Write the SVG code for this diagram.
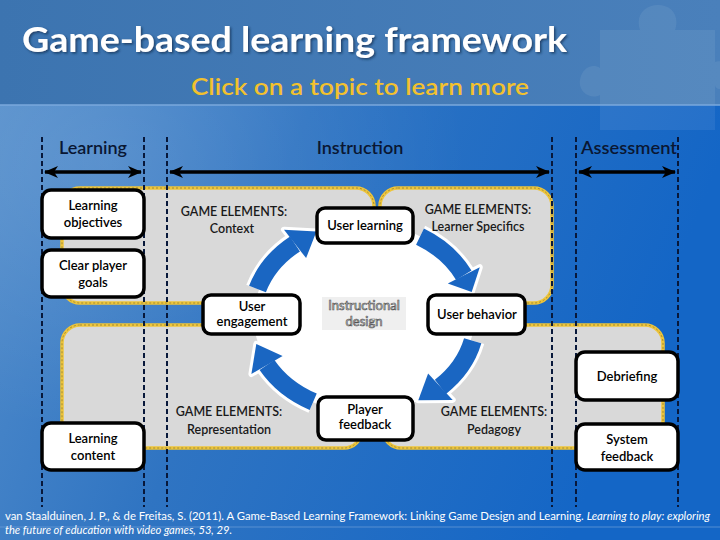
<svg xmlns="http://www.w3.org/2000/svg" width="720" height="540" viewBox="0 0 720 540">
<defs>
<linearGradient id="bg" x1="0" y1="0" x2="1" y2="0.3">
<stop offset="0" stop-color="#5790cc"/>
<stop offset="0.45" stop-color="#2f74c2"/>
<stop offset="1" stop-color="#1466c6"/>
</linearGradient>
<linearGradient id="hdr" x1="0" y1="0" x2="1" y2="0">
<stop offset="0" stop-color="#3c74b0"/>
<stop offset="1" stop-color="#4a80bb"/>
</linearGradient>
<radialGradient id="glow" cx="0.15" cy="0.3" r="0.5">
<stop offset="0" stop-color="#ffffff" stop-opacity="0.12"/>
<stop offset="1" stop-color="#ffffff" stop-opacity="0"/>
</radialGradient>
<marker id="ah" viewBox="0 0 14 14" refX="13" refY="7" markerWidth="14" markerHeight="14" markerUnits="userSpaceOnUse" orient="auto-start-reverse">
<path d="M0,1 L14,7 L0,13 L4,7 z" fill="#000"/>
</marker>
<filter id="sh" x="-5%" y="-20%" width="110%" height="140%">
<feDropShadow dx="1.5" dy="1.5" stdDeviation="1" flood-color="#10284a" flood-opacity="0.7"/>
</filter>
</defs>
<style>
.t{font-family:Lato,"Open Sans","Liberation Sans",sans-serif}
.box{fill:#fff;stroke:#000;stroke-width:3.5}
.bt{font-family:Lato,"Open Sans","Liberation Sans",sans-serif;font-size:13px;fill:#000;text-anchor:middle;font-weight:600}
.ge{font-family:Lato,"Open Sans","Liberation Sans",sans-serif;font-size:12.5px;fill:#1a1a1a;text-anchor:middle;font-weight:600}
.hd{font-family:Lato,"Open Sans","Liberation Sans",sans-serif;font-size:18px;fill:#0a1733;text-anchor:middle;font-weight:600}
.pan{fill:#d9d9d9;stroke:#eec53a;stroke-width:3.5}
.pand{fill:none;stroke:#a08a3a;stroke-width:1;stroke-dasharray:2 2}
.dash{stroke:#08183a;stroke-width:2;stroke-dasharray:5 3;fill:none}
.rng{stroke:#1a66c2;stroke-width:18;fill:none}
.rngw{stroke:#fff;stroke-width:24;fill:none}
.hw{fill:#fff;stroke:#fff;stroke-width:6;stroke-linejoin:round}
.hb{fill:#1a66c2}
.dbl{stroke:#000;stroke-width:3.5;fill:none}
</style>

<!-- background -->
<rect x="0" y="0" width="720" height="540" fill="url(#bg)"/>
<rect x="0" y="0" width="720" height="540" fill="url(#glow)"/>
<rect x="0" y="0" width="720" height="105" fill="url(#hdr)"/>
<path d="M600,30 L640,30 C635,15 645,5 658,5 C671,5 680,15 675,30 L715,30 L715,62 C725,58 735,70 730,80 C725,92 715,90 715,85 L715,130 L600,130 L600,95 C590,100 578,92 580,80 C582,68 592,63 600,68 z" fill="#ffffff" opacity="0.07"/>
<line x1="0" y1="105" x2="720" y2="105" stroke="#7aa9dd" stroke-width="1.5"/>
<line x1="0" y1="527" x2="720" y2="527" stroke="#6f9fd8" stroke-width="1" opacity="0.7"/>

<text class="t" x="22" y="52" font-size="34" font-weight="bold" fill="#fff" textLength="545" lengthAdjust="spacingAndGlyphs" filter="url(#sh)">Game-based learning framework</text>
<text class="t" x="191" y="95" font-size="23" font-weight="600" fill="#f2c12e" textLength="338" lengthAdjust="spacingAndGlyphs">Click on a topic to learn more</text>

<!-- headers -->
<text class="hd" x="93" y="154">Learning</text>
<text class="hd" x="360" y="154">Instruction</text>
<text class="hd" x="629" y="154" textLength="96" lengthAdjust="spacingAndGlyphs">Assessment</text>

<!-- panels -->
<g id="panels">
<rect class="pan" x="62" y="188" width="312" height="115" rx="18"/>
<rect class="pand" x="62" y="188" width="312" height="115" rx="18"/>
<rect class="pan" x="380" y="188" width="172" height="115" rx="18"/>
<rect class="pand" x="380" y="188" width="172" height="115" rx="18"/>
<rect x="355" y="207" width="40" height="94" fill="#d9d9d9"/>
<rect class="pan" x="62" y="325" width="300" height="123" rx="18"/>
<rect class="pand" x="62" y="325" width="300" height="123" rx="18"/>
<rect class="pan" x="383" y="325" width="280" height="123" rx="18"/>
<rect class="pand" x="383" y="325" width="280" height="123" rx="18"/>
<rect x="345" y="328" width="55" height="106" fill="#d9d9d9"/>
</g>

<!-- central disk -->
<ellipse cx="364" cy="318" rx="110" ry="95" fill="#fff"/>
<g id="center">
<rect x="322" y="297" width="84" height="33" fill="#efefef"/>
<text class="t" x="364" y="310" font-size="13" text-anchor="middle" fill="#fff" stroke="#555" stroke-width="0.7">Instructional</text>
<text class="t" x="364" y="326" font-size="13" text-anchor="middle" fill="#fff" stroke="#555" stroke-width="0.7">design</text>
</g>

<!-- dashed dividers -->
<g id="dividers">
<line class="dash" x1="42" y1="137" x2="42" y2="507"/>
<line class="dash" x1="144" y1="137" x2="144" y2="507"/>
<line class="dash" x1="167" y1="137" x2="167" y2="507"/>
<line class="dash" x1="552" y1="137" x2="552" y2="507"/>
<line class="dash" x1="576" y1="137" x2="576" y2="507"/>
<line class="dash" x1="678" y1="137" x2="678" y2="507"/>
</g>

<!-- connectors -->
<g id="connectors">
<line class="dbl" x1="45" y1="172" x2="141" y2="172" marker-start="url(#ah)" marker-end="url(#ah)"/>
<line class="dbl" x1="170" y1="172" x2="549" y2="172" marker-start="url(#ah)" marker-end="url(#ah)"/>
<line class="dbl" x1="579" y1="172" x2="675" y2="172" marker-start="url(#ah)" marker-end="url(#ah)"/>

<path class="rngw" d="M257.5,289 A112,94 0 0 1 295,243.9"/>
<path class="rngw" d="M420,236.6 A112,94 0 0 1 463.8,275.3"/>
<path class="rngw" d="M472.7,340.7 A112,94 0 0 1 440.4,386.8"/>
<path class="rngw" d="M313.2,401.8 A112,94 0 0 1 267,365"/>
<polygon class="hw" points="284,229.7 316.4,231.6 306.1,258.1"/>
<polygon class="hw" points="479.8,267.2 471.7,292.1 447.8,283.5"/>
<polygon class="hw" points="452.7,399.9 418.3,400.2 428.1,373.6"/>
<polygon class="hw" points="251.4,374 256.3,343.9 282.6,356"/>
<path class="rng" d="M257.5,289 A112,94 0 0 1 295,243.9"/>
<path class="rng" d="M420,236.6 A112,94 0 0 1 463.8,275.3"/>
<path class="rng" d="M472.7,340.7 A112,94 0 0 1 440.4,386.8"/>
<path class="rng" d="M313.2,401.8 A112,94 0 0 1 267,365"/>
<polygon class="hb" points="284,229.7 316.4,231.6 306.1,258.1"/>
<polygon class="hb" points="479.8,267.2 471.7,292.1 447.8,283.5"/>
<polygon class="hb" points="452.7,399.9 418.3,400.2 428.1,373.6"/>
<polygon class="hb" points="251.4,374 256.3,343.9 282.6,356"/>
</g>

<!-- game elements labels -->
<g id="ge-context"><text class="ge" x="234" y="216">GAME ELEMENTS:</text><text class="ge" x="232" y="233">Context</text></g>
<g id="ge-learner"><text class="ge" x="478" y="214">GAME ELEMENTS:</text><text class="ge" x="478" y="231">Learner Specifics</text></g>
<g id="ge-representation"><text class="ge" x="229" y="416">GAME ELEMENTS:</text><text class="ge" x="229" y="434">Representation</text></g>
<g id="ge-pedagogy"><text class="ge" x="494" y="416">GAME ELEMENTS:</text><text class="ge" x="494" y="434">Pedagogy</text></g>

<!-- nodes -->
<g id="learning-objectives"><rect class="box" x="42" y="190" width="102" height="48" rx="9"/><text class="bt" x="93" y="210">Learning</text><text class="bt" x="93" y="227">objectives</text></g>
<g id="clear-player-goals"><rect class="box" x="42" y="250" width="102" height="47" rx="9"/><text class="bt" x="93" y="270">Clear player</text><text class="bt" x="93" y="287">goals</text></g>
<g id="learning-content"><rect class="box" x="42" y="423" width="102" height="47" rx="9"/><text class="bt" x="93" y="443">Learning</text><text class="bt" x="93" y="460">content</text></g>
<g id="user-learning"><rect class="box" x="317" y="208" width="96" height="35" rx="8"/><text class="bt" x="365" y="230">User learning</text></g>
<g id="user-engagement"><rect class="box" x="203" y="295" width="97" height="39" rx="8"/><text class="bt" x="252" y="311">User</text><text class="bt" x="252" y="326">engagement</text></g>
<g id="user-behavior"><rect class="box" x="428" y="295" width="97" height="39" rx="8"/><text class="bt" x="477" y="319">User behavior</text></g>
<g id="player-feedback"><rect class="box" x="318" y="397" width="95" height="43" rx="8"/><text class="bt" x="365" y="414">Player</text><text class="bt" x="365" y="429">feedback</text></g>
<g id="debriefing"><rect class="box" x="576" y="352" width="102" height="48" rx="9"/><text class="bt" x="627" y="381">Debriefing</text></g>
<g id="system-feedback"><rect class="box" x="576" y="424" width="102" height="46" rx="9"/><text class="bt" x="627" y="444">System</text><text class="bt" x="627" y="461">feedback</text></g>

<!-- citation -->
<text class="t" x="5" y="520" font-size="10.5" fill="#fff" textLength="705" lengthAdjust="spacingAndGlyphs">van Staalduinen, J. P., &amp; de Freitas, S. (2011). A Game-Based Learning Framework: Linking Game Design and Learning. <tspan font-style="italic">Learning to play: exploring</tspan></text>
<text class="t" x="5" y="534" font-size="10.5" fill="#fff" font-style="italic" textLength="227" lengthAdjust="spacingAndGlyphs">the future of education with video games, 53, 29.</text>
</svg>
